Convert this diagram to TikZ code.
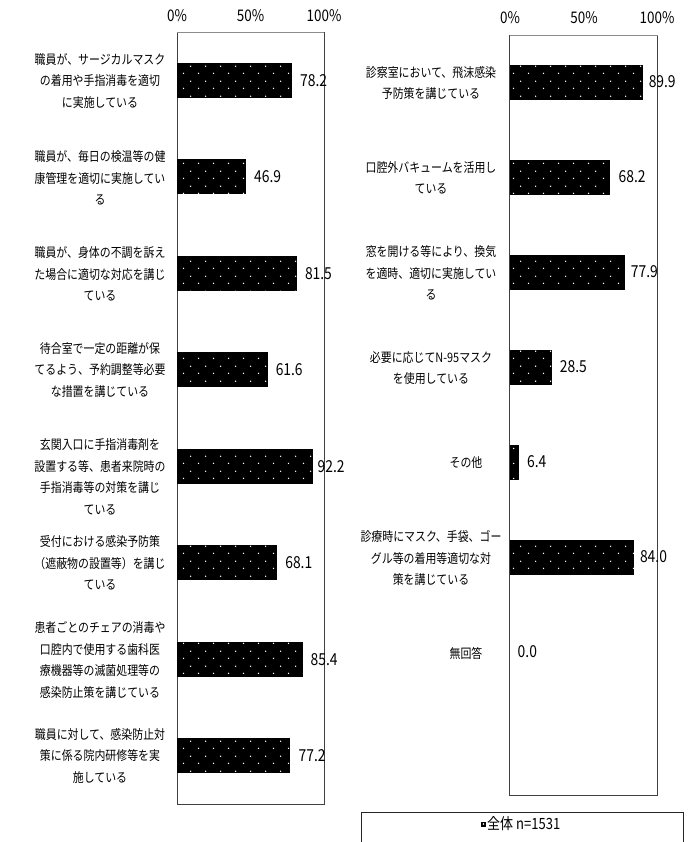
\documentclass[tikz,border=0pt]{standalone}
\usepackage{fontspec}
\setmainfont[FakeStretch=0.84]{Noto Sans CJK JP}
\usetikzlibrary{patterns.meta}

\tikzdeclarepattern{
  name=barDots,
  type=uncolored,
  bounding box={(0,0) and (15bp,15bp)},
  tile size={(15bp,15bp)},
  code={
    \fill (3.75bp,3.75bp) circle (0.8bp);
    \fill (11.25bp,11.25bp) circle (0.8bp);
  }
}

\tikzset{
  lbl/.style={align=center, inner sep=0pt, font=\fontsize{13bp}{21.5bp}\selectfont},
  val/.style={anchor=west, inner sep=0pt, font=\fontsize{16.5bp}{18bp}\selectfont},
  pct/.style={inner sep=0pt, font=\fontsize{16bp}{18bp}\selectfont},
  bar/.style={fill=black, postaction={pattern=barDots, pattern color=white}},
}

\begin{document}
\begin{tikzpicture}[x=1bp, y=-1bp]
    \useasboundingbox (0,0) rectangle (696,842);

    % left chart
    \node[pct](l0) at (177, 16) {0\%};
    \node[pct](l50) at (250.5, 16) {50\%};
    \node[pct](l100) at (324, 16) {100\%};
    \draw[black!75] (177,32)--(177,804)--(324,804)--(324,32);
    \draw[black!45, thick] (177,32)--(324,32);

    \path[bar] (177,62.75) rectangle (177+78.2*1.47,97.75);
    \node[lbl](a1) at (100, 81) {職員が、サージカルマスク\\の着用や手指消毒を適切\\に実施している};
    \node[val](va1) at (177+78.2*1.47+8, 80.25) {78.2};

    \path[bar] (177,159.25) rectangle (177+46.9*1.47,194.25);
    \node[lbl](a2) at (100, 178) {職員が、毎日の検温等の健\\康管理を適切に実施してい\\る};
    \node[val](va2) at (177+46.9*1.47+8, 176.75) {46.9};

    \path[bar] (177,255.75) rectangle (177+81.5*1.47,290.75);
    \node[lbl](a3) at (100, 274) {職員が、身体の不調を訴え\\た場合に適切な対応を講じ\\ている};
    \node[val](va3) at (177+81.5*1.47+8, 273.25) {81.5};

    \path[bar] (177,352.25) rectangle (177+61.6*1.47,387.25);
    \node[lbl](a4) at (100, 370) {待合室で一定の距離が保\\てるよう、予約調整等必要\\な措置を講じている};
    \node[val](va4) at (177+61.6*1.47+8, 369.75) {61.6};

    \path[bar] (177,448.75) rectangle (177+92.2*1.47,483.75);
    \node[lbl](a5) at (100, 477) {玄関入口に手指消毒剤を\\設置する等、患者来院時の\\手指消毒等の対策を講じ\\ている};
    \node[val](va5) at (177+92.2*1.47+5, 466.25) {92.2};

    \path[bar] (177,545.25) rectangle (177+68.1*1.47,580.25);
    \node[lbl](a6) at (100, 563) {受付における感染予防策\\（遮蔽物の設置等）を講じ\\ている};
    \node[val](va6) at (177+68.1*1.47+8, 562.75) {68.1};

    \path[bar] (177,641.75) rectangle (177+85.4*1.47,676.75);
    \node[lbl](a7) at (100, 660) {患者ごとのチェアの消毒や\\口腔内で使用する歯科医\\療機器等の滅菌処理等の\\感染防止策を講じている};
    \node[val](va7) at (177+85.4*1.47+8, 659.25) {85.4};

    \path[bar] (177,738.25) rectangle (177+77.2*1.47,773.25);
    \node[lbl](a8) at (100, 756) {職員に対して、感染防止対\\策に係る院内研修等を実\\施している};
    \node[val](va8) at (177+77.2*1.47+8, 755.75) {77.2};

    % right chart
    \node[pct](r0) at (510, 18) {0\%};
    \node[pct](r50) at (584, 18) {50\%};
    \node[pct](r100) at (657, 18) {100\%};
    \draw[black!75] (509.5,35)--(509.5,795)--(657.5,795)--(657.5,35);
    \draw[black!45, thick] (509.5,35)--(657.5,35);

    \path[bar] (509.5,64.5) rectangle (509.5+89.9*1.48,99.5);
    \node[lbl](b1) at (431, 83) {診察室において、飛沫感染\\予防策を講じている};
    \node[val](vb1) at (509.5+89.9*1.48+6, 82) {89.9};

    \path[bar] (509.5,159.5) rectangle (509.5+68.2*1.48,194.5);
    \node[lbl](b2) at (431, 178) {口腔外バキュームを活用し\\ている};
    \node[val](vb2) at (509.5+68.2*1.48+8, 177) {68.2};

    \path[bar] (509.5,254.5) rectangle (509.5+77.9*1.48,289.5);
    \node[lbl](b3) at (431, 273) {窓を開ける等により、換気\\を適時、適切に実施してい\\る};
    \node[val](vb3) at (509.5+77.9*1.48+6, 272) {77.9};

    \path[bar] (509.5,349.5) rectangle (509.5+28.5*1.48,384.5);
    \node[lbl](b4) at (431, 368) {必要に応じてN-95マスク\\を使用している};
    \node[val](vb4) at (509.5+28.5*1.48+8, 367) {28.5};

    \path[bar] (509.5,444.5) rectangle (509.5+6.4*1.48,479.5);
    \node[lbl](b5) at (466, 463) {その他};
    \node[val](vb5) at (509.5+6.4*1.48+8, 462) {6.4};

    \path[bar] (509.5,539.5) rectangle (509.5+84.0*1.48,574.5);
    \node[lbl](b6) at (431, 558) {診療時にマスク、手袋、ゴー\\グル等の着用等適切な対\\策を講じている};
    \node[val](vb6) at (509.5+84.0*1.48+6, 557) {84.0};

    \node[lbl](b7) at (466, 653) {無回答};
    \node[val](vb7) at (509.5+8, 652) {0.0};

    % legend
    \draw[black!85] (361,842)--(361,812.5)--(683,812.5)--(683,842);
    \fill[black] (481,821.5) rectangle (486,826.5);
    \fill[white] (483.5,824) circle (0.8);
    \node[anchor=west, inner sep=0pt, font=\fontsize{15.5bp}{17bp}\selectfont](key) at (487,824) {全体 n=1531};
\end{tikzpicture}
\end{document}
